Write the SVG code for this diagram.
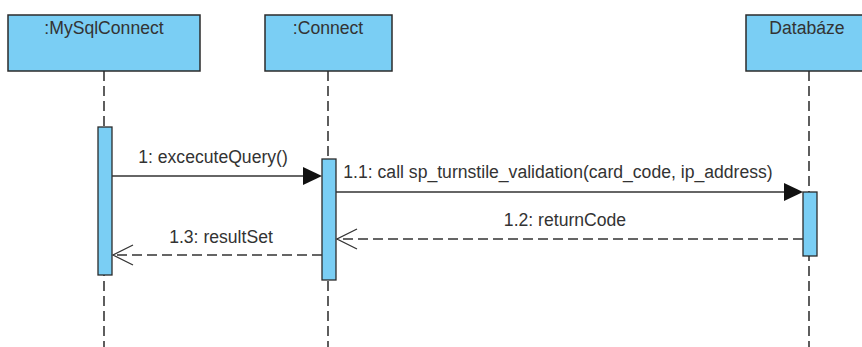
<svg xmlns="http://www.w3.org/2000/svg" width="862" height="347" viewBox="0 0 862 347">
<style>
.box{fill:#7ACEF4;stroke:#2b2b2b;stroke-width:1.5}
.bar{fill:#7ACEF4;stroke:#2b2b2b;stroke-width:1.3}
.life{stroke:#1a1a1a;stroke-width:1.4;stroke-dasharray:10 5;fill:none}
.msg{stroke:#333;stroke-width:1.3;fill:none}
.ret{stroke:#333;stroke-width:1.3;fill:none;stroke-dasharray:10 5}
.head{fill:none;stroke:#333;stroke-width:1.3}
text{font-family:"Liberation Sans",Arial,sans-serif;font-size:17.6px;fill:#333}
</style>
<rect width="862" height="347" fill="#fff"/>
<g id="lifelines">
<line class="life" x1="104" y1="71" x2="104" y2="347"/>
<line class="life" x1="328" y1="71" x2="328" y2="347"/>
<line class="life" x1="809" y1="71" x2="809" y2="347"/>
</g>
<g id="MySqlConnect">
<rect class="box" x="8" y="15" width="192" height="56"/>
<text x="104" y="34" text-anchor="middle">:MySqlConnect</text>
<rect class="bar" x="98" y="127" width="14" height="148"/>
</g>
<g id="Connect">
<rect class="box" x="265" y="15" width="127" height="56"/>
<text x="328" y="34" text-anchor="middle">:Connect</text>
<rect class="bar" x="322" y="159" width="14" height="121"/>
</g>
<g id="Databaze">
<rect class="box" x="746" y="15" width="127" height="56"/>
<text x="807" y="34" text-anchor="middle">Databáze</text>
<rect class="bar" x="803" y="192" width="14" height="64"/>
</g>
<g id="connectors">
<line class="msg" x1="112" y1="176" x2="304" y2="176"/>
<polygon points="322,176 303,167 303,185" fill="#111"/>
<text x="213" y="163" text-anchor="middle">1: excecuteQuery()</text>
<line class="msg" x1="336" y1="192" x2="785" y2="192"/>
<polygon points="803,192 784,183 784,201" fill="#111"/>
<text x="558" y="178" text-anchor="middle">1.1: call sp_turnstile_validation(card_code, ip_address)</text>
<line class="ret" x1="803" y1="239" x2="337" y2="239"/>
<polyline class="head" points="357,229 337,239 357,249"/>
<text x="565" y="226" text-anchor="middle">1.2: returnCode</text>
<line class="ret" x1="322" y1="255" x2="113" y2="255"/>
<polyline class="head" points="133,245 113,255 133,265"/>
<text x="221" y="243" text-anchor="middle">1.3: resultSet</text>
</g>
</svg>
